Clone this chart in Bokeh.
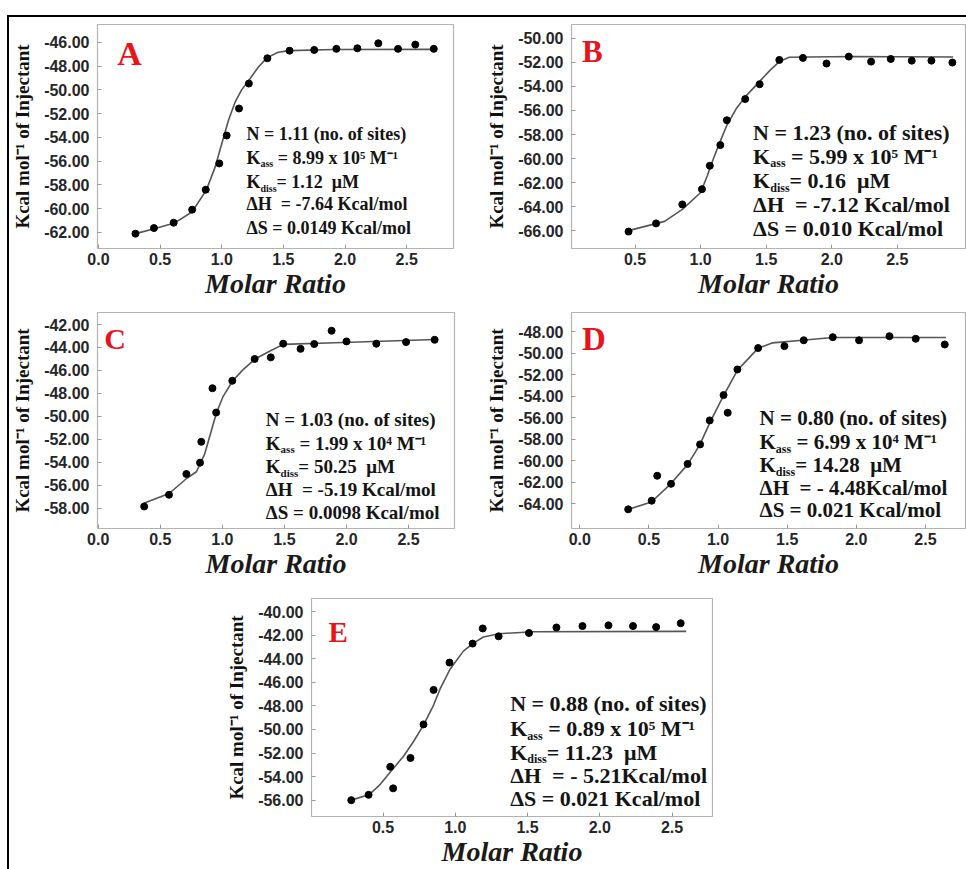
from bokeh.plotting import figure
from bokeh.models import Range1d, FixedTicker, PrintfTickFormatter, Spacer
from bokeh.layouts import row, column
from bokeh.embed import file_html
from bokeh.resources import INLINE
from bokeh.core.properties import value

# ---------------- data ----------------
A_x = [0.30, 0.45, 0.61, 0.76, 0.87, 0.98, 1.04, 1.14, 1.22, 1.37, 1.55, 1.75, 1.93, 2.10, 2.27, 2.43, 2.57, 2.72]
A_y = [-62.10, -61.63, -61.18, -60.08, -58.40, -56.19, -53.84, -51.57, -49.47, -47.34, -46.70, -46.64, -46.55, -46.50, -46.08, -46.55, -46.19, -46.55]
A_fit_x = [0.30, 0.454, 0.615, 0.758, 0.874, 0.946, 1.0, 1.054, 1.108, 1.161, 1.228, 1.296, 1.366, 1.457, 1.551, 1.914, 2.72]
A_fit_y = [-62.10, -61.68, -61.21, -60.28, -58.46, -56.50, -54.54, -52.58, -51.04, -50.0, -49.08, -48.10, -47.31, -46.84, -46.70, -46.61, -46.59]

B_x = [0.45, 0.66, 0.86, 1.01, 1.07, 1.15, 1.20, 1.34, 1.45, 1.60, 1.78, 1.96, 2.13, 2.30, 2.45, 2.61, 2.76, 2.92]
B_y = [-66.08, -65.40, -63.82, -62.55, -60.60, -58.88, -56.81, -55.05, -53.81, -51.79, -51.62, -52.09, -51.51, -51.93, -51.71, -51.85, -51.85, -52.01]
B_fit_x = [0.45, 0.725, 0.863, 1.0, 1.05, 1.10, 1.15, 1.20, 1.275, 1.35, 1.445, 1.525, 1.60, 1.675, 2.15, 2.926]
B_fit_y = [-66.0, -65.23, -64.21, -62.83, -61.45, -59.93, -58.55, -57.23, -55.79, -54.74, -53.64, -52.70, -51.93, -51.57, -51.51, -51.54]

C_x = [0.37, 0.57, 0.71, 0.82, 0.83, 0.92, 0.95, 1.08, 1.26, 1.39, 1.49, 1.63, 1.74, 1.88, 2.00, 2.24, 2.48, 2.71]
C_y = [-57.86, -56.84, -55.03, -54.04, -52.22, -47.55, -49.67, -46.90, -45.00, -44.86, -43.67, -44.12, -43.70, -42.54, -43.47, -43.67, -43.53, -43.33]
C_fit_x = [0.367, 0.571, 0.714, 0.791, 0.858, 0.903, 0.951, 1.004, 1.084, 1.163, 1.264, 1.376, 1.49, 1.907, 2.715]
C_fit_y = [-57.58, -56.73, -55.40, -54.83, -53.27, -51.57, -49.73, -48.31, -46.90, -45.97, -45.0, -44.35, -43.73, -43.59, -43.30]

D_x = [0.35, 0.52, 0.56, 0.66, 0.78, 0.87, 0.94, 1.04, 1.07, 1.14, 1.29, 1.48, 1.62, 1.83, 2.02, 2.24, 2.43, 2.64]
D_y = [-64.50, -63.70, -61.38, -62.13, -60.28, -58.47, -56.24, -53.89, -55.53, -51.51, -49.52, -49.34, -48.80, -48.51, -48.80, -48.42, -48.66, -49.19]
D_fit_x = [0.353, 0.518, 0.658, 0.779, 0.866, 0.945, 1.04, 1.141, 1.289, 1.395, 1.608, 1.829, 2.65]
D_fit_y = [-64.50, -63.82, -62.13, -60.35, -58.56, -56.33, -53.95, -51.57, -49.55, -49.04, -48.80, -48.54, -48.54]

E_x = [0.28, 0.40, 0.55, 0.57, 0.69, 0.78, 0.85, 0.96, 1.12, 1.19, 1.30, 1.51, 1.70, 1.88, 2.06, 2.23, 2.39, 2.56]
E_y = [-56.0, -55.55, -53.17, -55.0, -52.42, -49.57, -46.64, -44.32, -42.71, -41.42, -42.09, -41.81, -41.34, -41.22, -41.16, -41.22, -41.31, -40.98]
E_fit_x = [0.279, 0.403, 0.481, 0.555, 0.642, 0.711, 0.780, 0.849, 0.895, 0.964, 1.056, 1.121, 1.194, 1.302, 1.539, 2.598]
E_fit_y = [-56.0, -55.55, -54.66, -53.54, -52.28, -51.02, -49.63, -47.95, -46.56, -44.88, -43.35, -42.71, -42.15, -41.87, -41.70, -41.67]

X_TICKS = [0.0, 0.5, 1.0, 1.5, 2.0, 2.5]
A_yticks = [-62, -60, -58, -56, -54, -52, -50, -48, -46]
B_yticks = [-66, -64, -62, -60, -58, -56, -54, -52, -50]
C_yticks = [-58, -56, -54, -52, -50, -48, -46, -44, -42]
D_yticks = [-64, -62, -60, -58, -56, -54, -52, -50, -48]
E_yticks = [-56, -54, -52, -50, -48, -46, -44, -42, -40]

NB = "\u00a0"
A_stats = ["N = 1.11 (no. of sites)", ("K", "ass", NB + "= 8.99 x 10\u2075 M\u207b\u00b9"), ("K", "diss", "= 1.12" + NB + NB + "\u03bcM"),
           "\u0394H" + NB + NB + "= -7.64 Kcal/mol", "\u0394S = 0.0149 Kcal/mol"]
B_stats = ["N = 1.23 (no. of sites)", ("K", "ass", NB + "= 5.99 x 10\u2075 M\u207b\u00b9"), ("K", "diss", "= 0.16" + NB + NB + "\u03bcM"),
           "\u0394H" + NB + NB + "= -7.12 Kcal/mol", "\u0394S = 0.010 Kcal/mol"]
C_stats = ["N = 1.03 (no. of sites)", ("K", "ass", NB + "= 1.99 x 10\u2074 M\u207b\u00b9"), ("K", "diss", "= 50.25" + NB + NB + "\u03bcM"),
           "\u0394H" + NB + NB + "= -5.19 Kcal/mol", "\u0394S = 0.0098 Kcal/mol"]
D_stats = ["N = 0.80 (no. of sites)", ("K", "ass", NB + "= 6.99 x 10\u2074 M\u207b\u00b9"), ("K", "diss", "= 14.28" + NB + NB + "\u03bcM"),
           "\u0394H" + NB + NB + "= - 4.48Kcal/mol", "\u0394S = 0.021 Kcal/mol"]
E_stats = ["N = 0.88 (no. of sites)", ("K", "ass", NB + "= 0.89 x 10\u2075 M\u207b\u00b9"), ("K", "diss", "= 11.23" + NB + NB + "\u03bcM"),
           "\u0394H" + NB + NB + "= - 5.21Kcal/mol", "\u0394S = 0.021 Kcal/mol"]

Y_LABEL = "Kcal mol\u207b\u00b9 of Injectant"
X_LABEL = "Molar Ratio"

SERIF = "Liberation Serif"
SANS = "Liberation Sans"
SUB_W = {"ass": 1.278, "diss": 1.612}


def panel(letter, width, height, borders, xr, yr, yticks, xs, ys, fx, fy,
          stats, stat_x, stat_ys, fsize, letter_xy, letter_size):
    left, right, top, bottom = borders
    p = figure(width=width, height=height, x_range=Range1d(*xr), y_range=Range1d(*yr),
               output_backend="svg", toolbar_location=None,
               min_border_left=left, min_border_right=right,
               min_border_top=top, min_border_bottom=bottom)
    p.grid.visible = False
    p.outline_line_color = "#b3b3b3"
    p.outline_line_width = 1.2
    p.background_fill_color = "white"
    p.border_fill_color = "white"

    p.xaxis.ticker = FixedTicker(ticks=X_TICKS)
    p.xaxis.formatter = PrintfTickFormatter(format="%.1f")
    p.yaxis.ticker = FixedTicker(ticks=yticks)
    p.yaxis.formatter = PrintfTickFormatter(format="%.2f")
    for ax in (p.xaxis[0], p.yaxis[0]):
        ax.axis_line_color = None
        ax.major_tick_in = 4
        ax.major_tick_out = 0
        ax.minor_tick_in = 0
        ax.minor_tick_out = 0
        ax.major_tick_line_color = "#999999"
        ax.major_label_text_font = SANS
        ax.major_label_text_font_style = "bold"
        ax.major_label_text_font_size = "16px"
        ax.major_label_text_color = "#262626"
    p.xaxis.major_label_standoff = 4
    p.yaxis.major_label_standoff = 8
    p.xaxis.axis_label = X_LABEL
    p.xaxis.axis_label_text_font = SERIF
    p.xaxis.axis_label_text_font_style = "bold italic"
    p.xaxis.axis_label_text_font_size = "28px"
    p.xaxis.axis_label_text_color = "#1c1a18"
    p.xaxis.axis_label_standoff = 0
    p.yaxis.axis_label = Y_LABEL
    p.yaxis.axis_label_text_font = SERIF
    p.yaxis.axis_label_text_font_style = "bold"
    p.yaxis.axis_label_text_font_size = "19px"
    p.yaxis.axis_label_text_color = "#111111"
    p.yaxis.axis_label_standoff = 8

    p.line(fx, fy, line_color="#555555", line_width=1.6)
    p.scatter(xs, ys, size=7, marker="circle", fill_color="black", line_color="black")

    p.text(x=[letter_xy[0]], y=[letter_xy[1]], text=[letter], text_font=value(SERIF),
           text_font_style="bold", text_font_size=f"{letter_size}px", text_color="#e8141b",
           text_baseline="middle", text_align="left")

    sub_size = round(fsize * 0.56)
    for line, yy in zip(stats, stat_ys):
        common = dict(text_font=value(SERIF), text_font_style="bold", text_color="#141414",
                      text_baseline="middle", text_align="left")
        if isinstance(line, tuple):
            head, sub, rest = line
            wk = 0.778 * fsize
            ws = SUB_W[sub] * sub_size
            p.text(x=[stat_x], y=[yy], text=[head], text_font_size=f"{fsize}px", **common)
            p.text(x=[stat_x], y=[yy], text=[sub], text_font_size=f"{sub_size}px",
                   x_offset=wk, y_offset=0.33 * fsize, **common)
            p.text(x=[stat_x], y=[yy], text=[rest], text_font_size=f"{fsize}px",
                   x_offset=wk + ws, **common)
        else:
            p.text(x=[stat_x], y=[yy], text=[line], text_font_size=f"{fsize}px", **common)
    return p


pA = panel("A", 474, 284, (86, 30, 7, 53), (-0.008, 2.88), (-63.35, -44.5), A_yticks,
           A_x, A_y, A_fit_x, A_fit_y, A_stats, 1.20,
           [-53.70, -55.71, -57.76, -59.64, -61.63], 18, (0.153, -46.91), 34)
pB = panel("B", 483, 284, (83, 1, 6, 53), (0.015, 3.02), (-67.49, -48.84), B_yticks,
           B_x, B_y, B_fit_x, B_fit_y, B_stats, 1.40,
           [-57.86, -59.79, -61.86, -63.79, -65.81], 22, (0.095, -51.06), 31)
pC = panel("C", 474, 284, (84, 29, 11, 53), (-0.006, 2.87), (-59.78, -40.95), C_yticks,
           C_x, C_y, C_fit_x, C_fit_y, C_stats, 1.35,
           [-50.30, -52.34, -54.40, -56.38, -58.37], 19, (0.048, -43.19), 30)
pD = panel("D", 483, 284, (83, 1, 2, 57), (-0.06, 2.79), (-66.28, -46.22), D_yticks,
           D_x, D_y, D_fit_x, D_fit_y, D_stats, 1.30,
           [-56.03, -58.26, -60.35, -62.49, -64.57], 21, (0.016, -48.71), 33)
pE = panel("E", 520, 284, (111, 8, 13, 53), (0.005, 2.78), (-57.39, -38.88), E_yticks,
           E_x, E_y, E_fit_x, E_fit_y, E_stats, 1.38,
           [-47.81, -49.91, -51.92, -53.90, -55.83], 22, (0.122, -41.74), 29)

panels = column(row(pA, pB), row(pC, pD), row(Spacer(width=191, height=284), pE))
top_bar = Spacer(width=959, height=2, styles={"background-color": "black"})
left_bar = Spacer(width=2, height=852, styles={"background-color": "black"})
layout = column(Spacer(width=10, height=15),
                row(Spacer(width=7, height=2), top_bar),
                row(Spacer(width=7, height=852), left_bar, panels))

open("out.html", "w").write(file_html(layout, INLINE))
